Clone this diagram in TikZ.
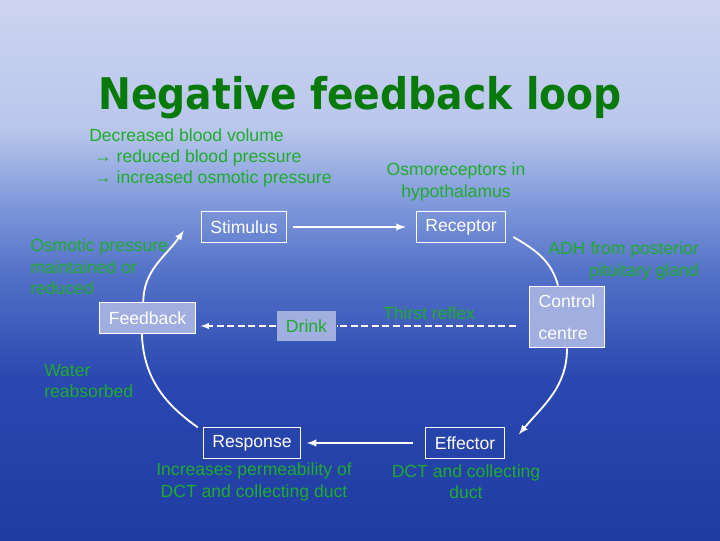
\documentclass[tikz,border=0pt]{standalone}
\usepackage{fontspec}
\setmainfont{Liberation Sans}
\newfontfamily\titlefont{DejaVu Sans Condensed}
\usetikzlibrary{arrows,calc,positioning}
\definecolor{txtgreen}{RGB}{30,172,45}
\definecolor{ttlgreen}{RGB}{8,122,12}
\definecolor{boxfill}{RGB}{160,174,224}
\definecolor{bgA}{RGB}{32,60,162}
\definecolor{bgB}{RGB}{42,72,176}
\definecolor{bgC}{RGB}{85,115,200}
\definecolor{bgD}{RGB}{130,155,220}
\definecolor{bgE}{RGB}{185,198,236}
\definecolor{bgF}{RGB}{205,212,240}
\pgfdeclareverticalshading{bgsky}{100bp}{color(0bp)=(bgA); color(25bp)=(bgA); color(40bp)=(bgB); color(50bp)=(bgC); color(56.5bp)=(bgD); color(63bp)=(bgE); color(75bp)=(bgF); color(100bp)=(bgF)}

\begin{document}
\begin{tikzpicture}[x=0.025cm, y=0.025cm, >=latex]
   \shade[shading=bgsky] (0,0) rectangle (720,540);
   \useasboundingbox (0,0) rectangle (720,540);
   \node[font=\titlefont\bfseries\fontsize{31pt}{36pt}\selectfont, text=ttlgreen] (title) at (360,442) {Negative feedback loop};
   \begin{scope}[every node/.style={draw=white, line width=0.7pt, text=white, font=\fontsize{12.5pt}{15pt}\selectfont, inner xsep=6.5pt, minimum height=21.5pt}]
    \node (stim) at (244,313) {Stimulus};
    \node (rec) at (461,313) {Receptor};
    \node (eff) at (465,97) {Effector};
    \node (resp) at (252,97) {Response};
    \node (fb) [fill=boxfill] at (147.5,222) {Feedback};
    \node (ctrl) [fill=boxfill, align=left, minimum width=51pt, minimum height=44pt, font=\fontsize{12.5pt}{22.7pt}\selectfont] at (567,223) {Control\\centre};
    \node (drink) [fill=boxfill, draw=none, text=txtgreen] at (306.5,214) {Drink};
   \end{scope}
   \coordinate (thirst) at (516,214);
   \begin{scope}[every node/.style={text=txtgreen, inner sep=0pt, font=\fontsize{12.5pt}{15.2pt}\selectfont}]
    \node (decr) [anchor=west, align=left] at (89,382) {Decreased blood volume\\\hspace*{3.5pt}→ reduced blood pressure\\\hspace*{3.5pt}→ increased osmotic pressure};
    \node (osmo) [align=center] at (456,358) {Osmoreceptors in\\hypothalamus};
    \node (kept) [anchor=west, align=left] at (30,273) {Osmotic pressure\\maintained or\\reduced};
    \node (adh) [anchor=east, align=right] at (699,279) {ADH from posterior\\pituitary gland};
    \node (water) [anchor=west, align=left] at (44,159) {Water\\reabsorbed};
    \node (perm) [align=center] at (254,58) {Increases permeability of\\DCT and collecting duct};
    \node (dct) [align=center] at (466,58) {DCT and collecting\\duct};
    \node (reflex) at (429,227) {Thirst reflex};
   \end{scope}
   \begin{scope}[white, line width=1.3pt]
    \draw[->, shorten <=4pt, shorten >=7pt] (stim) -- (rec);
    \draw ([xshift=5pt,yshift=4pt]rec.south east) to[out=-30, in=105] ([xshift=-6.4pt]ctrl.north);
    \draw[->] (ctrl.south) to[out=-90, in=50] ([shift={(10pt,-5pt)}]eff.north east);
    \draw[->, shorten <=8.5pt, shorten >=4pt] (eff.west) -- (resp.east);
    \draw ([xshift=-3.5pt]resp.north west) to[out=145, in=-88] ([xshift=-4pt]fb.south);
    \draw[->] ([xshift=-3pt]fb.north) to[out=90, in=235] ([shift={(-12pt,8.5pt)}]stim.south west);
   \end{scope}
   \begin{scope}[white, line width=1pt, dash pattern=on 5pt off 2.5pt]
    \draw (thirst) -- (drink.east);
    \draw[->, shorten >=3.5pt] (drink.west) -- (drink.west -| fb.east);
   \end{scope}
\end{tikzpicture}
\end{document}
